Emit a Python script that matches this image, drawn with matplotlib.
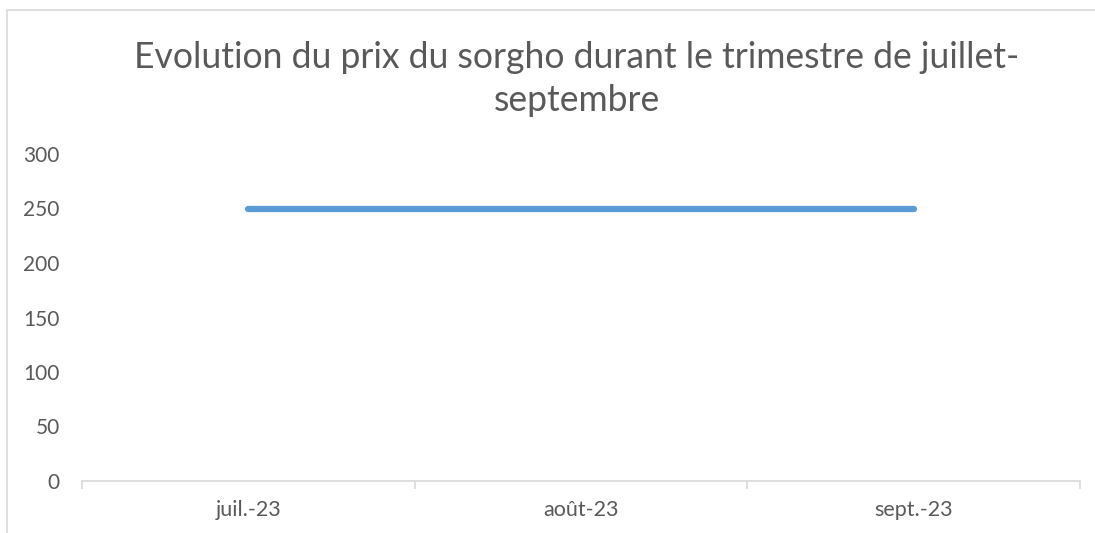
import matplotlib
matplotlib.use("Agg")
from matplotlib import pyplot as plt
from matplotlib.patches import Rectangle

mois = ["juil.-23", "août-23", "sept.-23"]
prix = [250, 250, 250]
y_ticks = [0, 50, 100, 150, 200, 250, 300]
titre = "Evolution du prix du sorgho durant le trimestre de juillet-\nseptembre"

plt.rcParams["font.family"] = ["Lato", "DejaVu Sans"]
gris = "#595959"

fig = plt.figure(figsize=(10.95, 5.33), dpi=100)
W, H = 1095, 533
ax = fig.add_axes([82 / W, 1 - 481 / H, (1080 - 82) / W, (481 - 154) / H])

# cadre du graphique (coupé en bas et à droite)
fig.patches.append(Rectangle((7 / W, -0.1), 1.2, 1.1 - 10 / H, transform=fig.transFigure,
                             fill=False, edgecolor="#d9d9d9", linewidth=1.2))

x = list(range(len(mois)))
ax.plot(x, prix, color="#5B9BD5", linewidth=4.5, solid_capstyle="round")

ax.set_xlim(-0.5, len(mois) - 0.5)
ax.set_ylim(0, 300)
ax.set_yticks(y_ticks)
ax.set_xticks(x)
ax.set_xticklabels(mois)
ax.set_xticks([i - 0.5 for i in range(len(mois) + 1)], minor=True)
ax.tick_params(axis="x", which="major", length=0, pad=14, labelsize=15.5, labelcolor=gris)
ax.tick_params(axis="x", which="minor", length=6, color="#d9d9d9", width=1.2)
ax.tick_params(axis="y", length=0, pad=16, labelsize=15, labelcolor=gris)

for s in ["top", "right", "left"]:
    ax.spines[s].set_visible(False)
ax.spines["bottom"].set_color("#d9d9d9")
ax.spines["bottom"].set_linewidth(1.2)

fig.text(577 / W, 1 - 79 / H, titre, ha="center", va="center", fontsize=25.6,
         color=gris, linespacing=1.4)

fig.savefig("out.png", dpi=100)
